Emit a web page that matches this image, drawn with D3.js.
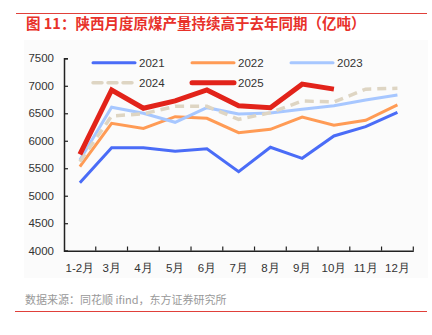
<!DOCTYPE html>
<html><head><meta charset="utf-8">
<script src="https://cdn.jsdelivr.net/npm/d3@7/dist/d3.min.js"></script>
<style>body{margin:0;background:#fff}svg{display:block;font-family:"Liberation Sans",Arial,sans-serif}</style>
</head><body>
<svg id="c" width="432" height="335"></svg>
<script>
const categories = ["1-2月","3月","4月","5月","6月","7月","8月","9月","10月","11月","12月"];
const yTicks = [4000,4500,5000,5500,6000,6500,7000,7500];
const s2021 = [5237,5874,5872,5808,5856,5437,5881,5681,6087,6256,6518];
const s2022 = [5530,6318,6225,6438,6408,6147,6208,6432,6281,6372,6651];
const s2023 = [5650,6609,6500,6336,6602,6487,6505,6572,6638,6742,6832];
const s2024 = [5620,6450,6490,6626,6626,6390,6511,6723,6705,6939,6955];
const s2025 = [5754,6924,6591,6724,6924,6638,6602,7030,6939];
const seriesNames = ["2021","2022","2023","2024","2025"];

const series = [
  {name:"2021", data:s2021, color:"#4a6cf7", w:3, dash:null},
  {name:"2022", data:s2022, color:"#ff9b55", w:3, dash:null},
  {name:"2023", data:s2023, color:"#a7c7ff", w:3, dash:null},
  {name:"2024", data:s2024, color:"#ded5c3", w:3.5, dash:"9,6"},
  {name:"2025", data:s2025, color:"#e2231a", w:5, dash:null}
];

const svg = d3.select("#c");
svg.append("rect").attr("x",24).attr("y",40).attr("width",404).attr("height",238).attr("fill","#fbfbfb");
svg.append("line").attr("x1",16).attr("x2",427).attr("y1",13.5).attr("y2",13.5).attr("stroke","#e0403a").attr("stroke-width",1);
svg.append("line").attr("x1",15).attr("x2",427).attr("y1",311.5).attr("y2",311.5).attr("stroke","#e0403a").attr("stroke-width",1);
svg.append("text").attr("x",26).attr("y",29).attr("fill","#e8312a").attr("font-size",14.5).attr("font-weight","bold")
  .attr("font-family","'Noto Sans CJK SC',sans-serif").text("图 11：陕西月度原煤产量持续高于去年同期（亿吨）");
svg.append("text").attr("x",25).attr("y",304).attr("fill","#999").attr("font-size",11)
  .attr("font-family","'Noto Sans CJK SC',sans-serif").text("数据来源：同花顺 ifind，东方证券研究所");

const x = d3.scaleBand().domain(categories).range([64,413.3]);
const y = d3.scaleLinear().domain([4000,7500]).range([250.7,58.3]);

const gx = svg.append("g").attr("transform","translate(0,250.7)")
  .call(d3.axisBottom(x).tickSize(0).tickPadding(13));
gx.select(".domain").attr("stroke","#222").attr("stroke-width",1.5);
gx.selectAll("text").attr("font-size",11.5).attr("fill","#333");
const bounds = categories.map(c=>x(c)).concat([x.range()[1]]);
svg.append("g").selectAll("line").data(bounds.slice(1)).join("line")
  .attr("x1",d=>d).attr("x2",d=>d).attr("y1",250.7).attr("y2",246.5).attr("stroke","#222").attr("stroke-width",1.2);

const gy = svg.append("g").attr("transform","translate(64,0)")
  .call(d3.axisLeft(y).tickValues(yTicks).tickSize(-4).tickPadding(10).tickFormat(d3.format("d")));
gy.select(".domain").attr("stroke","#222").attr("stroke-width",1.5);
gy.selectAll(".tick line").attr("stroke","#222").attr("stroke-width",1.2);
gy.selectAll("text").attr("font-size",11.5).attr("fill","#333");

const line = d3.line().x((d,i)=>x(categories[i])+x.bandwidth()/2).y(d=>y(d));
series.forEach(s=>{
  svg.append("path").datum(s.data).attr("d",line).attr("fill","none")
    .attr("stroke",s.color).attr("stroke-width",s.w).attr("stroke-dasharray",s.dash)
    .attr("stroke-linejoin","miter");
});

const legPos = [[93,62.7],[192,62.7],[291,62.7],[93,82.7],[192,82.7]];
series.forEach((s,i)=>{
  const [lx,ly] = legPos[i];
  svg.append("line").attr("x1",lx).attr("x2",lx+42).attr("y1",ly).attr("y2",ly)
    .attr("stroke",s.color).attr("stroke-width",s.w).attr("stroke-dasharray",s.dash).attr("stroke-linecap","round");
  svg.append("text").attr("x",lx+46).attr("y",ly+4).attr("font-size",11.5).attr("fill","#333").text(seriesNames[i]);
});
</script>
</body></html>
